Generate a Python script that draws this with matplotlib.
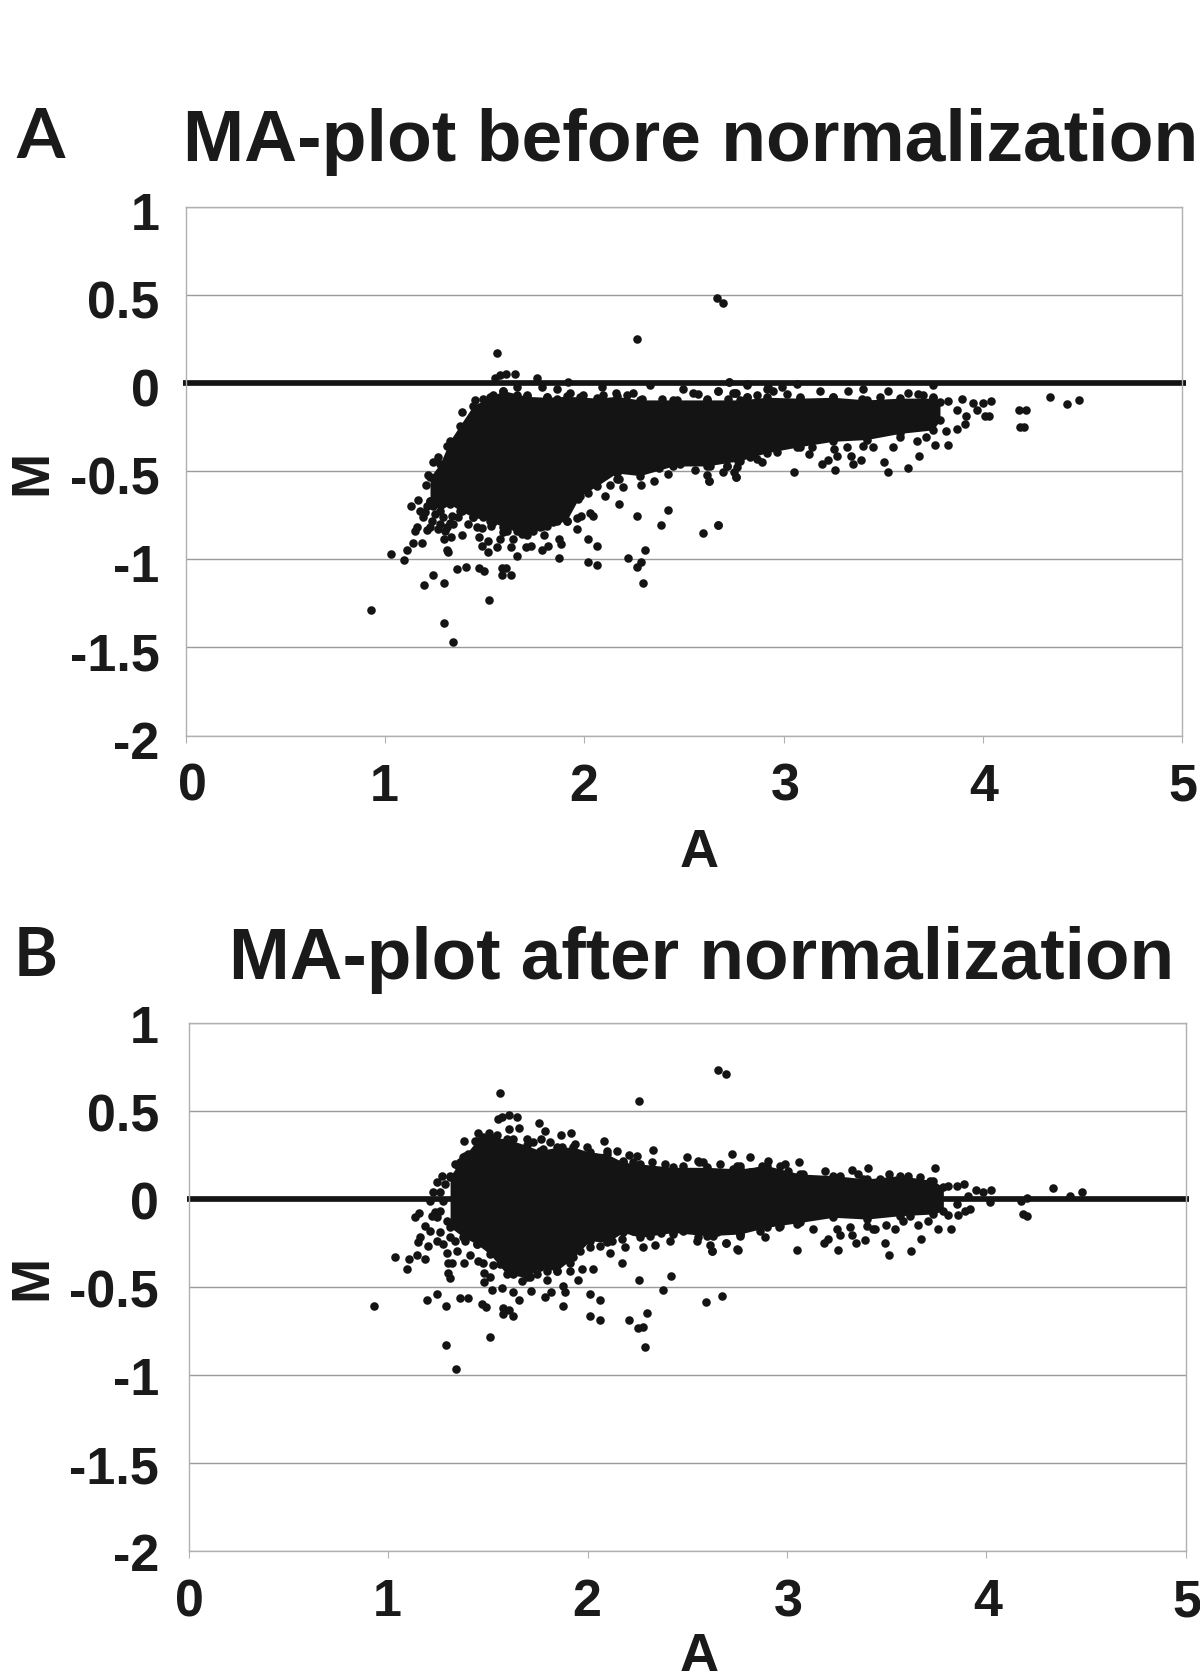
import matplotlib
matplotlib.use("Agg")
import matplotlib.pyplot as plt
from matplotlib.transforms import ScaledTranslation

# ------------------------------------------------------------
# Data (A, M)
# ------------------------------------------------------------
x_ticks = [0, 1, 2, 3, 4, 5]
y_ticks = [1, 0.5, 0, -0.5, -1, -1.5, -2]
y_labels = ["1", "0.5", "0", "-0.5", "-1", "-1.5", "-2"]

# dense cloud outline, panel A
before_env_a = [1.225, 1.275, 1.325, 1.375, 1.442, 1.526, 1.593, 1.710, 1.810, 1.911, 1.978, 2.061,
                2.162, 2.279, 2.446, 2.614, 2.781, 2.915, 3.082, 3.249, 3.417, 3.584, 3.751, 3.785]
before_env_top = [-.534, -.458, -.326, -.241, -.127, -.080, -.042, -.075, -.080, -.075, -.078, -.085,
                  -.075, -.095, -.095, -.095, -.095, -.080, -.085, -.080, -.095, -.085, -.085, -.105]
before_env_bot = [-.667, -.723, -.686, -.723, -.761, -.780, -.818, -.860, -.809, -.780, -.640, -.585,
                  -.510, -.525, -.470, -.470, -.440, -.395, -.360, -.330, -.320, -.285, -.265, -.210]

# separate points, panel A
before_a = [1.563, 2.262, .930, 1.297, 1.340, 1.519, 1.196, 1.242, 1.297, 1.362, 1.406, 1.472, 1.496,
            1.585, 1.606, 1.585, 1.630, 1.029, 1.096, 1.108, 1.141, 1.186, 1.308, 1.317, 1.385, 1.297,
            1.330, 1.472, 1.518, 1.484, 1.518, 1.563, 1.663, 1.630, 1.707, 1.730, 1.785, 1.819, 1.874,
            1.882, 1.874, 2.016, 2.061, 2.016, 2.061, 1.961, 1.797, 2.217, 2.306, 2.284, 2.262, 2.294,
            2.262, 2.174, 2.195, 2.174, 2.284, 2.384, 2.418, 2.595, 2.671, 2.375, 2.349, 2.418, 2.625,
            2.617, 2.697, 2.717, 2.761, 2.751, 2.028, 2.041, 1.981, 1.961, 1.129, 1.163, 1.158, 1.150,
            1.208, 1.385, 1.551, 1.576, 1.606, 1.651, 1.764, 1.918, 1.663, 1.785, 1.861, 1.928, 1.710,
            2.087, 2.157, 2.246, 2.329, 2.493, 2.727, 2.671, 2.818, 2.761, 2.547, 1.451, 2.666, 2.696,
            4.335, 4.424, 4.481, 4.181, 4.217, 4.185, 4.205, 4.010, 4.030, 4.039, 4.002, 3.949, 3.969,
            3.894, 3.827, 3.748, 3.825, 3.760, 3.681, 3.626, 3.525, 3.505, 3.547, 3.388, 3.350, 3.258,
            3.050, 3.224, 3.191, 3.127, 2.893, 2.761, 2.627, 2.672, 3.269, 3.336, 3.254, 3.450, 3.668,
            3.715, 3.815, 3.868, 3.910, 3.914, 3.868, 3.065, 3.400, 3.182, 3.325, 3.525, 3.626, 2.923,
            2.990, 2.818, 2.727, 2.672, 2.756, 1.175, 1.191, 1.225, 1.250, 1.233, 1.275, 1.325, 1.300,
            1.384, 1.417, 1.459, 1.484, 1.529, 1.593, 1.576, 1.643, 1.685, 1.744, 1.794, 1.844, 1.914,
            1.969, 2.020, 2.103, 2.128, 1.242, 1.267, 1.216, 1.205, 1.308]
before_m = [.170, .252, -1.288, -1.362, -1.468, -1.229, -1.148, -1.089, -1.136, -1.053, -1.042, -1.051, -1.064,
            -1.049, -1.049, -1.089, -1.089, -.968, -1.004, -.945, -.907, -.909, -.945, -.960, -.862, -.884,
            -.875, -.875, -.898, -.922, -.956, -.932, -.983, -.932, -.932, -.922, -.945, -.922, -.884,
            -.913, -.994, -1.017, -1.030, -.884, -.922, -.828, -.860, -.994, -.945, -1.017, -1.042, -1.136,
            -.756, -.684, -.591, -.542, -.578, -.803, -.722, -.850, -.803, -.481, -.553, -.515, -.553,
            -.519, -.506, -.472, -.530, -.506, -.739, -.756, -.756, -.767, -.697, -.661, -.818, -.837,
            -.833, -.161, .028, .044, .053, .051, .028, .006, -.019, -.019, -.032, -.055, -.070,
            -.019, -.055, -.055, -.013, -.032, .006, -.042, -.004, -.055, -.055, -.093, .481, .455,
            -.080, -.116, -.093, -.150, -.150, -.246, -.246, -.187, -.187, -.102, -.114, -.114, -.152,
            -.089, -.102, -.008, -.352, -.352, -.411, -.481, -.506, -.447, -.364, -.436, -.458, -.492,
            -.506, -.436, -.458, -.400, -.447, -.530, -.553, -.803, -.411, -.411, -.373, -.364, -.326,
            -.303, -.269, -.259, -.231, -.189, -.155, -.004, -.032, -.042, -.042, -.042, -.055, -.023,
            -.023, -.008, .006, -.042, -.055, -.723, -.761, -.667, -.629, -.780, -.799, -.795, -.837,
            -.723, -.799, -.818, -.824, -.813, -.847, -.884, -.884, -.856, -.837, -.809, -.790, -.780,
            -.657, -.623, -.638, -.576, -.449, -.420, -.519, -.576, -.354]

# points on the rim of the cloud, panel A
before_rim_a = [1.493, 1.543, 1.593, 1.660, 1.777, 1.810, 1.861, 1.995, 2.095, 2.212, 2.287, 2.388, 2.463,
                2.572, 2.614, 2.722, 2.815, 2.865, 2.747, 2.814, 2.915, 2.948, 3.015, 3.082, 3.249, 3.392,
                3.484, 3.676, 3.751, 3.701, 2.162, 2.480, 2.555, 2.630, 2.764, 2.865, 2.714, 2.772, 2.831,
                2.965, 3.065, 3.141, 3.316, 3.400, 3.584, 1.258, 1.292, 1.334, 1.208, 1.242, 1.275, 1.200,
                1.250, 1.292, 1.334, 1.367, 1.225, 1.267, 1.308, 1.342, 1.442, 1.493, 1.543, 1.610, 1.660,
                1.710, 1.777, 1.861]
before_rim_m = [-.089, -.070, -.042, -.070, -.108, -.076, -.089, -.070, -.070, -.070, -.089, -.089, -.098,
                -.061, -.089, -.089, -.080, -.070, -.055, -.076, -.032, -.042, -.064, -.076, -.076, -.089,
                -.080, -.061, -.080, -.070, -.544, -.458, -.492, -.468, -.477, -.430, -.468, -.443, -.420,
                -.392, -.364, -.364, -.364, -.354, -.307, -.610, -.648, -.667, -.695, -.695, -.686, -.733,
                -.742, -.761, -.752, -.761, -.818, -.828, -.818, -.799, -.761, -.761, -.790, -.837, -.837,
                -.837, -.818, -.780]

# dense cloud outline, panel B
after_env_a = [1.310, 1.377, 1.444, 1.510, 1.594, 1.694, 1.761, 1.845, 1.929, 2.012, 2.096, 2.179,
               2.263, 2.430, 2.597, 2.765, 2.898, 3.066, 3.233, 3.400, 3.567, 3.735, 3.785]
after_env_top = [.130, .237, .332, .351, .342, .304, .275, .294, .294, .266, .256, .209,
                 .199, .180, .180, .171, .190, .142, .133, .114, .133, .104, .066]
after_env_bot = [-.160, -.217, -.256, -.313, -.427, -.446, -.389, -.408, -.332, -.237, -.247, -.190,
                 -.218, -.190, -.209, -.199, -.161, -.133, -.104, -.114, -.095, -.085, -.066]

# separate points, panel B
after_a = [2.654, 2.696, 1.559, 2.260, .927, 1.291, 1.342, 1.509, 1.193, 1.243, 1.291, 1.362, 1.402, 1.469,
           1.490, 1.577, 1.607, 1.577, 1.628, 1.658, 1.875, 2.014, 2.064, 2.014, 2.064, 2.209, 2.300, 2.280,
           2.251, 2.290, 2.260, 2.377, 2.417, 2.596, 2.674, 2.171, 1.036, 1.104, 1.094, 1.144, 1.183, 1.382,
           1.301, 1.322, 1.301, 1.311, 1.480, 1.480, 1.510, 1.520, 1.569, 1.628, 1.715, 1.785, 1.815, 1.875,
           1.885, 1.795, 1.952, 1.972, 2.029, 1.912, 1.134, 1.154, 1.382, 2.189, 2.171, 2.280, 2.338, 2.370,
           2.113, 2.626, 2.614, 2.748, 2.694, 2.551, 2.413, 1.549, 1.569, 1.607, 1.648, 1.658, 1.607, 1.756,
           1.785, 1.765, 1.865, 1.915, 1.452, 1.507, 2.084, 2.149, 2.209, 2.250, 2.328, 2.497, 2.725, 2.815,
           2.664, 2.561, 1.243, 1.268, 1.226, 1.209, 1.218, 1.235, 1.184, 1.159, 1.151, 1.201, 1.243, 1.293,
           1.343, 1.410, 1.452, 1.477, 1.527, 3.059, 2.990, 3.405, 3.741, 3.357, 3.191, 3.325, 3.514, 3.609,
           3.888, 3.810, 3.852, 3.947, 4.024, 3.985, 4.019, 4.335, 4.422, 4.482, 4.206, 4.176, 4.186, 4.206,
           3.919, 3.893, 3.860, 3.910, 3.852, 3.810, 3.760, 3.822, 3.671, 3.621, 3.514, 3.494, 3.544, 3.442,
           3.392, 3.347, 3.258, 3.208, 3.188, 3.266, 3.250, 3.325, 3.133, 3.051, 2.892, 2.962, 2.753, 2.694,
           2.624, 3.659, 3.709, 3.584, 3.495]
after_m = [.731, .710, .603, .558, -.607, -.827, -.968, -.782, -.573, -.541, -.609, -.562, -.562, -.598,
           -.611, -.617, -.628, -.655, -.666, -.573, -.609, -.666, -.689, -.541, -.573, -.689, -.645, -.725,
           -.734, -.841, -.459, -.516, -.436, -.586, -.550, -.366, -.332, -.343, -.400, -.321, -.343, -.364,
           -.364, -.364, -.421, -.450, -.421, -.471, -.446, -.516, -.503, -.528, -.522, -.554, -.528, -.493,
           -.528, -.459, -.459, -.400, -.395, -.408, -.104, -.080, .328, -.275, -.230, -.275, -.260, -.194,
           -.304, -.298, -.260, -.285, -.249, -.237, -.237, .454, .465, .478, .465, .404, .397, .431,
           .385, .340, .361, .374, .374, .374, .328, .271, .249, .243, .281, .237, .258, .237,
           .199, .213, .099, .133, .038, -.009, -.095, -.076, -.152, -.218, -.247, -.266, -.237, -.304,
           -.294, -.317, -.351, -.361, -.374, .213, .199, .176, .178, .142, .161, .165, .142, .129,
           .085, .076, .072, .049, .049, .038, -.019, .061, .017, .038, .006, -.009, -.085, -.099,
           -.057, -.066, -.089, .019, -.028, -.089, -.171, -.171, -.228, -.298, -.321, -.250, -.171, -.171,
           -.231, -.250, -.287, -.228, -.250, -.205, -.171, -.205, -.171, -.287, -.218, -.157, -.287, -.250,
           -.298, -.148, -.123, -.123, -.148]

# points on the rim of the cloud, panel B
after_rim_a = [1.335, 1.360, 1.402, 1.435, 1.477, 1.544, 1.628, 1.694, 1.728, 1.778, 1.812, 1.870, 1.937,
               1.995, 2.037, 2.096, 2.179, 2.230, 2.322, 2.388, 2.480, 2.556, 2.597, 2.648, 2.748, 2.848,
               2.581, 2.731, 2.765, 2.815, 2.873, 2.907, 2.965, 3.007, 3.082, 3.266, 3.383, 3.467, 3.668,
               3.718, 1.335, 1.385, 1.444, 1.510, 1.561, 1.594, 1.628, 1.669, 1.711, 1.745, 1.795, 1.845,
               1.912, 1.962, 2.012, 2.062, 2.121, 2.230, 2.313, 2.430, 2.480, 2.556, 2.648, 2.765, 2.631,
               2.765, 2.865, 2.965, 3.049, 3.317, 3.400, 3.434, 3.618, 1.260, 1.276, 1.260, 1.293, 1.243,
               1.209, 1.260, 1.310, 1.276, 1.285, 1.310, 1.352, 1.385]
after_rim_m = [.199, .209, .256, .332, .351, .361, .342, .342, .323, .285, .323, .294, .313,
               .294, .237, .275, .218, .209, .209, .199, .190, .218, .171, .142, .190, .161,
               .209, .171, .190, .152, .190, .214, .190, .161, .142, .133, .114, .114, .123,
               .104, -.237, -.237, -.256, -.285, -.370, -.389, -.427, -.465, -.446, -.427, -.408, -.408,
               -.361, -.294, -.275, -.266, -.237, -.180, -.209, -.199, -.180, -.218, -.190, -.199, -.209,
               -.209, -.180, -.152, -.142, -.161, -.152, -.171, -.095, .038, -.009, -.066, -.123, -.104,
               -.180, -.190, -.218, -.256, .085, .123, .190, .247]

W, H = 1200, 1672
DOT = "#141414"
GRID = "#9a9a9a"
DOT_SIZE = 38


def draw_panel(fig, box, env_a, env_top, env_bot, pts_a, pts_m, rim_a, rim_m,
               line_ends, label_dy, label_pad, xlabel_dx):
    left, top, right, bottom = box
    ax = fig.add_axes([left / W, 1 - bottom / H, (right - left) / W, (bottom - top) / H])
    ax.set_xlim(0, 5)
    ax.set_ylim(-2, 1)

    ax.fill_between(env_a, env_bot, env_top, color=DOT, lw=0, zorder=3)
    ax.scatter(env_a, env_top, s=DOT_SIZE, color=DOT, lw=0, zorder=3)
    ax.scatter(env_a, env_bot, s=DOT_SIZE, color=DOT, lw=0, zorder=3)
    ax.scatter(pts_a, pts_m, s=DOT_SIZE, color=DOT, lw=0, zorder=3)
    ax.scatter(rim_a, rim_m, s=DOT_SIZE, color=DOT, lw=0, zorder=3)

    # thick zero line pokes out past the frame
    ax.plot(line_ends, [0, 0], color=DOT, lw=4.1, solid_capstyle="butt", clip_on=False, zorder=2)

    ax.set_yticks(y_ticks)
    ax.set_yticklabels(y_labels)
    ax.set_xticks(x_ticks)
    ax.grid(True, axis="y", color=GRID, lw=1.0, zorder=1)
    ax.set_axisbelow(True)
    for name in ["left", "right", "top", "bottom"]:
        ax.spines[name].set_color("#b0b0b0")
        ax.spines[name].set_linewidth(1.0)
    ax.tick_params(axis="y", length=0, pad=label_pad, labelsize=37.5)
    ax.tick_params(axis="x", length=5, width=0.8, color="#b0b0b0", pad=14.5, labelsize=37.5)

    shift_y = ScaledTranslation(0, -label_dy / 100, fig.dpi_scale_trans)
    for lab in ax.get_yticklabels():
        lab.set_fontweight("bold")
        lab.set_color("#1a1a1a")
        lab.set_transform(lab.get_transform() + shift_y)
    for lab, dx in zip(ax.get_xticklabels(), xlabel_dx):
        lab.set_fontweight("bold")
        lab.set_color("#1a1a1a")
        lab.set_transform(lab.get_transform() + ScaledTranslation(dx / 100, 0, fig.dpi_scale_trans))
    return ax


def main():

    plt.rcParams["font.family"] = ["Liberation Sans", "DejaVu Sans"]
    fig = plt.figure(figsize=(W / 100, H / 100), dpi=100)

    # ------------------------------------------------------------
    # Panels
    # ------------------------------------------------------------
    draw_panel(fig, (186, 207, 1182, 735.5), before_env_a, before_env_top, before_env_bot,
               before_a, before_m, before_rim_a, before_rim_m, (-0.015, 5.02),
               4, 19, [6, -1, -1, 2, 1, 1])
    draw_panel(fig, (189, 1023, 1185.5, 1551), after_env_a, after_env_top, after_env_bot,
               after_a, after_m, after_rim_a, after_rim_m, (-0.01, 5.02),
               1, 21.5, [0, -1, -1, 1, 1, 1])

    # ------------------------------------------------------------
    # Titles and labels
    # ------------------------------------------------------------
    def put(x, y, s, size, **kw):
        fig.text(x / W, 1 - y / H, s, fontsize=size, fontweight="bold", color="#1a1a1a", **kw)

    put(183, 161, "MA-plot before normalization", 52.8, ha="left", va="baseline")
    put(229, 979, "MA-plot after normalization", 52.6, ha="left", va="baseline")
    put(16, 158, "A", 50, ha="left", va="baseline", family=["Lato", "DejaVu Sans"])
    put(14, 976, "B", 48, ha="left", va="baseline", family=["Lato", "DejaVu Sans"])
    put(699, 867, "A", 39, ha="center", va="baseline")
    put(699, 1671, "A", 39, ha="center", va="baseline")
    put(32, 472, "M", 39, ha="center", va="center", rotation=90)
    put(32, 1277, "M", 39, ha="center", va="center", rotation=90)

    fig.savefig("out.png", dpi=100)


if __name__ == "__main__":
    main()
